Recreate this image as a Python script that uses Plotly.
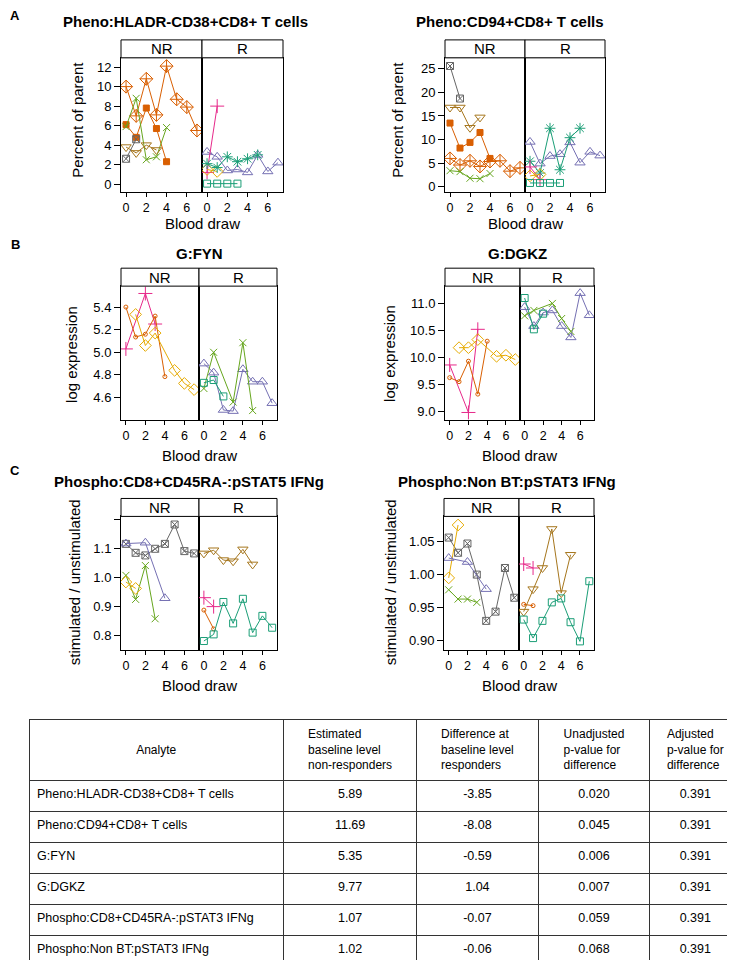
import plotly.graph_objects as go

W, H = 735, 960
FONT = "Liberation Sans, Arial, Helvetica, sans-serif"

# ---------------- data ----------------
groups = ["NR", "R"]
draw_ticks = [0, 2, 4, 6]

titles = ["Pheno:HLADR-CD38+CD8+ T cells", "Pheno:CD94+CD8+ T cells", "G:FYN", "G:DGKZ",
          "Phospho:CD8+CD45RA-:pSTAT5 IFNg", "Phospho:Non BT:pSTAT3 IFNg"]
ylabels = ["Percent of parent", "Percent of parent", "log expression", "log expression",
           "stimulated / unstimulated", "stimulated / unstimulated"]
panel_letters = ["A", "B", "C"]

# (group, subject symbol key, blood draws, values)
hladr_series = [
    ("NR", "diamondplus", [0, 1, 2, 3, 4, 5, 6, 7], [10.0, 7.0, 10.8, 7.1, 12.1, 8.7, 7.9, 5.5]),
    ("NR", "sqfill", [0, 1, 2, 3, 4], [6.1, 4.8, 7.8, 5.7, 2.3]),
    ("NR", "xgreen", [0, 1, 2, 3, 4], [5.9, 8.8, 2.5, 2.8, 5.8]),
    ("NR", "tridown", [0, 1, 2, 3], [3.8, 3.2, 4.0, 3.5]),
    ("NR", "sqx", [0, 1], [2.6, 4.6]),
    ("R", "triup", [0, 1, 2, 3, 4, 5, 6, 7], [3.3, 2.8, 1.4, 1.5, 1.2, 3.0, 1.3, 2.2]),
    ("R", "plus", [0, 1], [1.2, 8.0]),
    ("R", "diamond", [0, 1], [1.5, 1.3]),
    ("R", "asterisk", [0, 1, 2, 3, 4, 5], [2.1, 1.7, 2.8, 2.3, 2.6, 3.0]),
    ("R", "square", [0, 1, 2, 3], [0.05, 0.05, 0.05, 0.05]),
]
cd94_series = [
    ("NR", "sqx", [0, 1], [25.6, 18.7]),
    ("NR", "tridown", [0, 1, 2, 3], [16.8, 16.8, 12.5, 14.7]),
    ("NR", "sqfill", [0, 1, 2, 3, 4], [13.5, 8.2, 9.4, 11.5, 6.0]),
    ("NR", "diamondplus", [0, 1, 2, 3, 4, 5, 6, 7], [6.0, 4.6, 5.5, 4.3, 5.35, 5.5, 3.3, 4.0]),
    ("NR", "xgreen", [0, 1, 2, 3, 4], [3.4, 3.2, 1.8, 1.7, 2.8]),
    ("R", "triup", [0, 1, 2, 3, 4, 5, 6, 7], [9.5, 4.9, 6.5, 6.9, 9.4, 5.1, 7.4, 6.6]),
    ("R", "asterisk", [0, 1, 2, 3, 4, 5], [5.4, 2.9, 12.4, 3.6, 10.4, 12.4]),
    ("R", "plus", [0, 1], [4.2, 1.5]),
    ("R", "diamond", [0, 1], [2.3, 2.6]),
    ("R", "square", [0, 1, 2, 3], [0.8, 0.8, 0.8, 0.8]),
]
fyn_series = [
    ("NR", "plus", [0, 2, 3], [5.03, 5.52, 5.25]),
    ("NR", "circle", [0, 1, 2, 3, 4], [5.40, 5.135, 5.16, 5.32, 4.785]),
    ("NR", "diamond", [1, 2, 3, 5, 6, 7], [5.335, 5.06, 5.17, 4.84, 4.725, 4.67]),
    ("R", "triup", [0, 1, 2, 3, 4, 5, 6, 7], [4.90, 4.82, 4.49, 4.48, 4.85, 4.74, 4.74, 4.55]),
    ("R", "xgreen", [0, 1, 3, 4, 5], [4.68, 5.0, 4.56, 5.085, 4.485]),
    ("R", "square", [0, 1, 2], [4.73, 4.755, 4.61]),
]
dgkz_series = [
    ("NR", "plus", [0, 2, 3], [9.86, 8.98, 10.52]),
    ("NR", "circle", [0, 1, 2, 3, 4], [9.625, 9.55, 9.93, 9.32, 10.30]),
    ("NR", "diamond", [1, 2, 3, 5, 6, 7], [10.18, 10.18, 10.33, 10.02, 10.04, 9.96]),
    ("R", "triup", [0, 1, 2, 3, 4, 5, 6, 7], [10.93, 10.58, 10.83, 10.87, 10.58, 10.37, 11.19, 10.78]),
    ("R", "square", [0, 1, 2], [11.1, 10.52, 10.81]),
    ("R", "xgreen", [0, 1, 3, 4, 5], [10.77, 10.87, 11.0, 10.72, 10.48]),
]
pstat5_series = [
    ("NR", "sqx", [0, 1, 2, 3, 4, 5, 6, 7], [1.116, 1.085, 1.076, 1.099, 1.116, 1.183, 1.091, 1.083]),
    ("NR", "triup", [0, 2, 4], [1.117, 1.12, 0.928]),
    ("NR", "xgreen", [0, 1, 2, 3], [1.007, 0.924, 1.041, 0.857]),
    ("NR", "diamond", [0, 1], [0.984, 0.962]),
    ("R", "tridown", [0, 1, 2, 3, 4, 5], [1.083, 1.094, 1.06, 1.056, 1.097, 1.045]),
    ("R", "plus", [0, 1], [0.93, 0.899]),
    ("R", "circle", [0, 1], [0.887, 0.822]),
    ("R", "square", [0, 1, 2, 3, 4, 5, 6, 7], [0.780, 0.803, 0.915, 0.841, 0.926, 0.809, 0.867, 0.826]),
]
pstat3_series = [
    ("NR", "sqx", [0, 1, 2, 3, 4, 5, 6, 7], [1.056, 1.033, 1.047, 1.0, 0.93, 0.944, 1.01, 0.965]),
    ("NR", "diamond", [0, 1], [0.995, 1.075]),
    ("NR", "triup", [0, 2, 4], [1.025, 1.019, 0.978]),
    ("NR", "xgreen", [0, 1, 2, 3], [0.977, 0.963, 0.963, 0.958]),
    ("R", "plus", [0, 1], [1.016, 1.01]),
    ("R", "circle", [0, 1], [0.955, 0.953]),
    ("R", "tridown", [0, 1, 2, 3, 4, 5], [0.944, 0.978, 1.01, 1.069, 0.972, 1.03]),
    ("R", "square", [0, 1, 2, 3, 4, 5, 6, 7], [0.932, 0.904, 0.93, 0.958, 0.964, 0.928, 0.899, 0.99]),
]

y_ticks = [
    [0, 2, 4, 6, 8, 10, 12],
    [0, 5, 10, 15, 20, 25],
    [4.6, 4.8, 5.0, 5.2, 5.4],
    [9.0, 9.5, 10.0, 10.5, 11.0],
    [0.8, 0.9, 1.0, 1.1, 1.2],
    [0.90, 0.95, 1.00, 1.05],
]
y_ticktext = [
    ["0", "2", "4", "6", "8", "10", "12"],
    ["0", "5", "10", "15", "20", "25"],
    ["4.6", "4.8", "5.0", "5.2", "5.4"],
    ["9.0", "9.5", "10.0", "10.5", "11.0"],
    ["0.8", "0.9", "1.0", "1.1", ""],
    ["0.90", "0.95", "1.00", "1.05"],
]

table_header = ["\u00a0<br>Analyte", "Estimated<br>baseline level<br>non-responders",
                "Difference at<br>baseline level<br>responders",
                "Unadjusted<br>p-value for<br>difference", "Adjusted<br>p-value for<br>difference"]
analytes = ["Pheno:HLADR-CD38+CD8+ T cells", "Pheno:CD94+CD8+ T cells", "G:FYN", "G:DGKZ",
            "Phospho:CD8+CD45RA-:pSTAT3 IFNg", "Phospho:Non BT:pSTAT3 IFNg"]
baseline_nr = ["5.89", "11.69", "5.35", "9.77", "1.07", "1.02"]
diff_r = ["-3.85", "-8.08", "-0.59", "1.04", "-0.07", "-0.06"]
p_unadj = ["0.020", "0.045", "0.006", "0.007", "0.059", "0.068"]
p_adj = ["0.391", "0.391", "0.391", "0.391", "0.391", "0.391"]

# ---------------- styles / layout constants ----------------
TEAL, ORANGE, PURPLE, MAGENTA = "#1B9E77", "#D95F02", "#7570B3", "#E7298A"
GREEN, YELLOW, BROWN, GREY = "#66A61E", "#E6AB02", "#A6761D", "#666666"
styles = {
    "diamondplus": (ORANGE, "diamond-cross-open", 10),
    "sqfill": (ORANGE, "square", 6),
    "xgreen": (GREEN, "x-thin-open", 7),
    "tridown": (BROWN, "triangle-down-open", 9),
    "sqx": (GREY, "square-x-open", 7),
    "triup": (PURPLE, "triangle-up-open", 9),
    "plus": (MAGENTA, "cross-thin-open", 10),
    "diamond": (YELLOW, "diamond-open", 9),
    "asterisk": (TEAL, "asterisk-open", 9),
    "square": (TEAL, "square-open", 7),
    "circle": (ORANGE, "circle-open", 4),
}

all_series = [hladr_series, cd94_series, fyn_series, dgkz_series, pstat5_series, pstat3_series]

# panel geometry in pixels: x_left, x_mid, x_right, strip_top, strip_bottom, bottom
geo = [
    (113, 194, 275, 32, 50, 184.3),
    (437, 517, 597, 32, 50, 184.3),
    (113, 191, 269, 261, 279, 413),
    (437, 512, 586, 261, 279, 413),
    (113, 191, 269, 492, 510, 644),
    (436, 511, 586, 492, 510, 644),
]
y_ranges = [[-0.78, 12.95], [-1.06, 27.33], [4.404, 5.585], [8.846, 11.32],
            [0.749, 1.211], [0.886, 1.088]]
title_pos = [(177.5, 14), (502, 14), (191.5, 246), (509, 246), (181, 475), (499, 475)]
ylab_pos = [(70, 112), (390, 112), (64, 347), (382, 347), (66, 576), (382, 576)]
xlab_y = [216, 216, 449, 449, 680, 680]
letter_pos = [(7, 8), (7, 237), (7, 464)]


def fx(p):
    return p / W


def fy(p):
    return 1 - p / H


def ax(n, kind):
    return kind + ("axis" if n == 1 else "axis%d" % n)


def ref(n, kind):
    return kind if n == 1 else "%s%d" % (kind, n)


fig = go.Figure()
layout = dict(width=W, height=H, margin=dict(l=0, r=0, t=0, b=0),
              paper_bgcolor="white", plot_bgcolor="white", showlegend=False,
              font=dict(family=FONT, color="black"))
shapes, annotations = [], []

for i, series in enumerate(all_series):
    xl, xm, xr, st, sb, bt = geo[i]
    for g, (a, b) in enumerate([(xl, xm), (xm, xr)]):
        n = 2 * i + g + 1
        layout[ax(n, "x")] = dict(
            domain=[fx(a), fx(b)], anchor=ref(n, "y"), range=[-0.5, 7.5],
            tickvals=draw_ticks, ticktext=[str(t) for t in draw_ticks],
            ticks="outside", ticklen=4, tickwidth=1, tickcolor="black",
            showline=True, linecolor="black", linewidth=1, mirror=True,
            showgrid=False, zeroline=False, tickfont=dict(size=12.5, family=FONT))
        layout[ax(n, "y")] = dict(
            domain=[fy(bt), fy(sb)], anchor=ref(n, "x"), range=y_ranges[i],
            tickvals=y_ticks[i], ticktext=y_ticktext[i],
            ticks="outside" if g == 0 else "", ticklen=6, tickwidth=1, tickcolor="black",
            showticklabels=(g == 0),
            showline=True, linecolor="black", linewidth=1, mirror=True,
            showgrid=False, zeroline=False, tickfont=dict(size=13, family=FONT))
        shapes.append(dict(type="rect", xref="paper", yref="paper",
                           x0=fx(a), x1=fx(b), y0=fy(sb), y1=fy(st),
                           line=dict(color="black", width=1), fillcolor="white"))
        annotations.append(dict(x=fx((a + b) / 2), y=fy((st + sb) / 2), xref="paper", yref="paper",
                                text=groups[g], showarrow=False, xanchor="center", yanchor="middle",
                                font=dict(size=15, family=FONT)))
    for grp, key, xs, ys in series:
        col, sym, size = styles[key]
        n = 2 * i + groups.index(grp) + 1
        fig.add_trace(go.Scatter(
            x=xs, y=ys, mode="lines+markers", xaxis=ref(n, "x"), yaxis=ref(n, "y"),
            line=dict(color=col, width=1),
            marker=dict(symbol=sym, size=size, color=col, line=dict(color=col, width=1)),
            hoverinfo="skip"))
    tx, ty = title_pos[i]
    annotations.append(dict(x=fx(tx), y=fy(ty), xref="paper", yref="paper", text="<b>%s</b>" % titles[i],
                            showarrow=False, xanchor="center", yanchor="middle",
                            font=dict(size=15, family=FONT)))
    lx, ly = ylab_pos[i]
    annotations.append(dict(x=fx(lx), y=fy(ly), xref="paper", yref="paper", text=ylabels[i],
                            showarrow=False, textangle=-90, xanchor="center", yanchor="middle",
                            font=dict(size=15, family=FONT)))
    annotations.append(dict(x=fx((xl + xr) / 2), y=fy(xlab_y[i]), xref="paper", yref="paper",
                            text="Blood draw", showarrow=False, xanchor="center", yanchor="middle",
                            font=dict(size=15, family=FONT)))

for k, (lx, ly) in enumerate(letter_pos):
    annotations.append(dict(x=fx(lx), y=fy(ly), xref="paper", yref="paper",
                            text="<b>%s</b>" % panel_letters[k], showarrow=False,
                            xanchor="center", yanchor="middle", font=dict(size=13, family=FONT)))

fig.add_trace(go.Table(
    domain=dict(x=[fx(21), fx(733)], y=[0, fy(713.3)]),
    columnwidth=[254.7, 132.7, 121.9, 111.2, 91.4],
    header=dict(values=table_header, align="center", height=60,
                line=dict(color="#333333", width=1), fill=dict(color="white"),
                font=dict(size=12, family=FONT, color="black")),
    cells=dict(values=[analytes, baseline_nr, diff_r, p_unadj, p_adj],
               align=["left", "center", "center", "center", "center"], height=31,
               line=dict(color="#333333", width=1), fill=dict(color="white"),
               font=dict(size=12.5, family=FONT, color="black")),
))

layout["shapes"] = shapes
layout["annotations"] = annotations
fig.update_layout(**layout)
fig.write_html("out.html")
